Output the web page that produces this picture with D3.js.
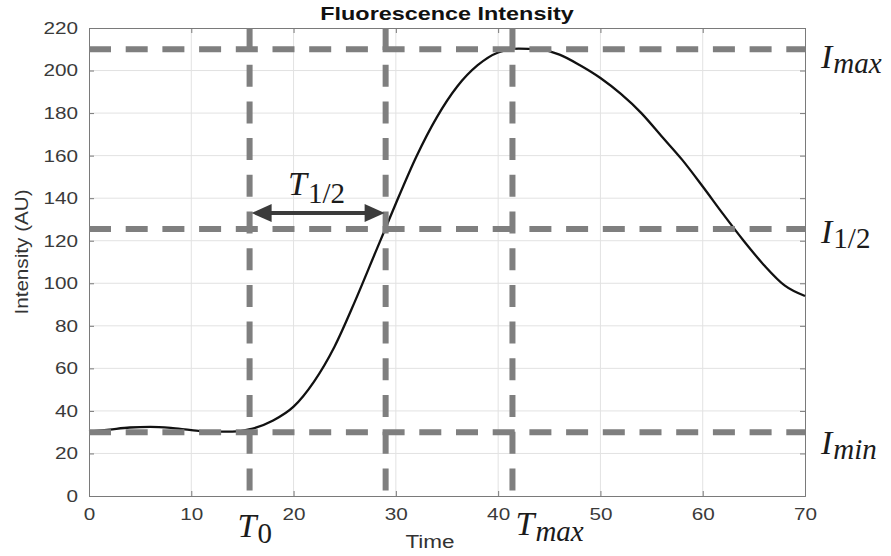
<!DOCTYPE html>
<html>
<head>
<meta charset="utf-8">
<script src="https://cdn.jsdelivr.net/npm/d3@7"></script>
<style>
  body { margin: 0; background: #fff; }
  svg { display: block; }
</style>
</head>
<body>
<svg id="chart"></svg>
<script>
// curve samples
const times = [0, 2, 4, 6, 8, 10, 12, 14, 16, 18, 20, 22, 24, 26, 28, 29, 30, 32, 34, 36, 38, 40, 42, 44, 46, 48, 50, 52, 54, 56, 58, 60, 62, 64, 66, 68, 70]
const intensity = [30.2, 31.2, 32.2, 32.5, 32, 31, 30.3, 30.3, 31.7, 35.5, 42, 53.8, 70.2, 91.5, 114.5, 126, 137.5, 159.5, 178, 192.5, 202.5, 208.5, 210.3, 210, 207.5, 202.5, 196.5, 189, 180, 169, 158, 145.5, 132.5, 120, 108.5, 99, 94]

const xTicks = [0, 10, 20, 30, 40, 50, 60, 70]
const yTicks = [0, 20, 40, 60, 80, 100, 120, 140, 160, 180, 200, 220]

// reference levels and times
const levelNames = ['max', '1/2', 'min']
const levelValues = [210, 125.5, 30]
const timeNames = ['0', '1/2', 'max']
const timeValues = [15.7, 29, 41.4]
const arrowSpan = [15.9, 28.9]
const arrowLevel = 133

const width = 891,
  height = 556
const margin = { top: 28, right: 86, bottom: 60, left: 89 }
const innerW = width - margin.left - margin.right,
  innerH = height - margin.top - margin.bottom

const svg = d3.select('#chart')
  .attr('width', width)
  .attr('height', height)

const x = d3.scaleLinear().domain([0, 70]).range([0, innerW])
const y = d3.scaleLinear().domain([0, 220]).range([innerH, 0])

const g = svg.append('g')
  .attr('transform', `translate(${margin.left},${margin.top})`)

// grid
g.append('g').selectAll('line')
  .data(xTicks.slice(1, -1))
  .enter().append('line')
  .attr('x1', d => x(d)).attr('x2', d => x(d))
  .attr('y1', 0).attr('y2', innerH)
  .attr('stroke', '#e2e2e2')
g.append('g').selectAll('line')
  .data(yTicks.slice(1, -1))
  .enter().append('line')
  .attr('y1', d => y(d)).attr('y2', d => y(d))
  .attr('x1', 0).attr('x2', innerW)
  .attr('stroke', '#e2e2e2')

// axes
const sans = 'Liberation Sans, Arial, Helvetica, sans-serif'

const xAxis = g.append('g')
  .attr('transform', `translate(0,${innerH})`)
  .call(d3.axisBottom(x).tickValues(xTicks).tickSize(-5).tickPadding(12))
xAxis.selectAll('text')
  .attr('font-family', sans).attr('font-size', 17).attr('fill', '#3a3a3a')
  .attr('transform', 'scale(1.22,1)')

const yAxis = g.append('g')
  .call(d3.axisLeft(y).tickValues(yTicks).tickSize(-5).tickPadding(9))
yAxis.selectAll('text')
  .attr('font-family', sans).attr('font-size', 17).attr('fill', '#3a3a3a')
  .attr('transform', 'scale(1.22,1)')

g.append('g')
  .call(d3.axisTop(x).tickValues(xTicks).tickSize(-5).tickFormat(''))
g.append('g')
  .attr('transform', `translate(${innerW},0)`)
  .call(d3.axisRight(y).tickValues(yTicks).tickSize(-5).tickFormat(''))

g.selectAll('.domain').attr('stroke', '#7a7a7a')
g.selectAll('.tick line').attr('stroke', '#7a7a7a')

// curve
const line = d3.line()
  .x((d, i) => x(times[i]))
  .y(d => y(d))
  .curve(d3.curveMonotoneX)

g.append('path')
  .datum(intensity)
  .attr('fill', 'none')
  .attr('stroke', '#111')
  .attr('stroke-width', 2.3)
  .attr('d', line)

// dashed reference lines
const dash = '22,14.7'
g.append('g').selectAll('line')
  .data(levelValues)
  .enter().append('line')
  .attr('x1', 0).attr('x2', innerW)
  .attr('y1', d => y(d)).attr('y2', d => y(d))
  .attr('stroke', '#7f7f7f')
  .attr('stroke-width', 6)
  .attr('stroke-dasharray', dash)
g.append('g').selectAll('line')
  .data(timeValues)
  .enter().append('line')
  .attr('y1', 0).attr('y2', innerH)
  .attr('x1', d => x(d)).attr('x2', d => x(d))
  .attr('stroke', '#7f7f7f')
  .attr('stroke-width', 6)
  .attr('stroke-dasharray', dash)

// T1/2 arrow
const ax0 = x(arrowSpan[0]), ax1 = x(arrowSpan[1]), ay = y(arrowLevel)
const head = 20, half = 9
g.append('line')
  .attr('x1', ax0 + head - 2).attr('x2', ax1 - head + 2)
  .attr('y1', ay).attr('y2', ay)
  .attr('stroke', '#3b3b3b').attr('stroke-width', 4)
g.append('path')
  .attr('d', `M${ax0},${ay}L${ax0 + head},${ay - half}L${ax0 + head},${ay + half}Z`)
  .attr('fill', '#3b3b3b')
g.append('path')
  .attr('d', `M${ax1},${ay}L${ax1 - head},${ay - half}L${ax1 - head},${ay + half}Z`)
  .attr('fill', '#3b3b3b')

// math labels
const serif = 'Liberation Serif, Times New Roman, serif'

function mathLabel(px, py, main, sub, subDy) {
  const t = svg.append('text')
    .attr('x', px).attr('y', py)
    .attr('font-family', serif)
    .attr('fill', '#1b1b1b')
  t.append('tspan')
    .attr('font-style', 'italic')
    .attr('font-size', 34)
    .text(main)
  t.append('tspan')
    .attr('font-style', /[a-z]/.test(sub) ? 'italic' : 'normal')
    .attr('font-size', 29)
    .attr('dy', subDy)
    .attr('dx', 1)
    .text(sub)
  return t
}

const iBaselines = [68, 243, 454]
levelNames.forEach((n, i) => mathLabel(821, iBaselines[i], 'I', n, 5))

mathLabel(margin.left + x(timeValues[0]) - 12, 537, 'T', timeNames[0], 6)
mathLabel(margin.left + x(timeValues[2]) + 3, 535, 'T', timeNames[2], 6)
mathLabel(margin.left + (ax0 + ax1) / 2 - 30, 195, 'T', timeNames[1], 8)

// titles
svg.append('text')
  .attr('transform', `translate(${margin.left + innerW / 2},20) scale(1.3,1)`)
  .attr('text-anchor', 'middle')
  .attr('font-family', sans)
  .attr('font-weight', 'bold')
  .attr('font-size', 18)
  .attr('fill', '#111')
  .text('Fluorescence Intensity')

svg.append('text')
  .attr('transform', `translate(430,548) scale(1.25,1)`)
  .attr('text-anchor', 'middle')
  .attr('font-family', sans)
  .attr('font-size', 18)
  .attr('fill', '#333')
  .text('Time')

svg.append('text')
  .attr('transform', `translate(28,252) rotate(-90) scale(1.15,1)`)
  .attr('text-anchor', 'middle')
  .attr('font-family', sans)
  .attr('font-size', 18)
  .attr('fill', '#333')
  .text('Intensity (AU)')
</script>
</body>
</html>
